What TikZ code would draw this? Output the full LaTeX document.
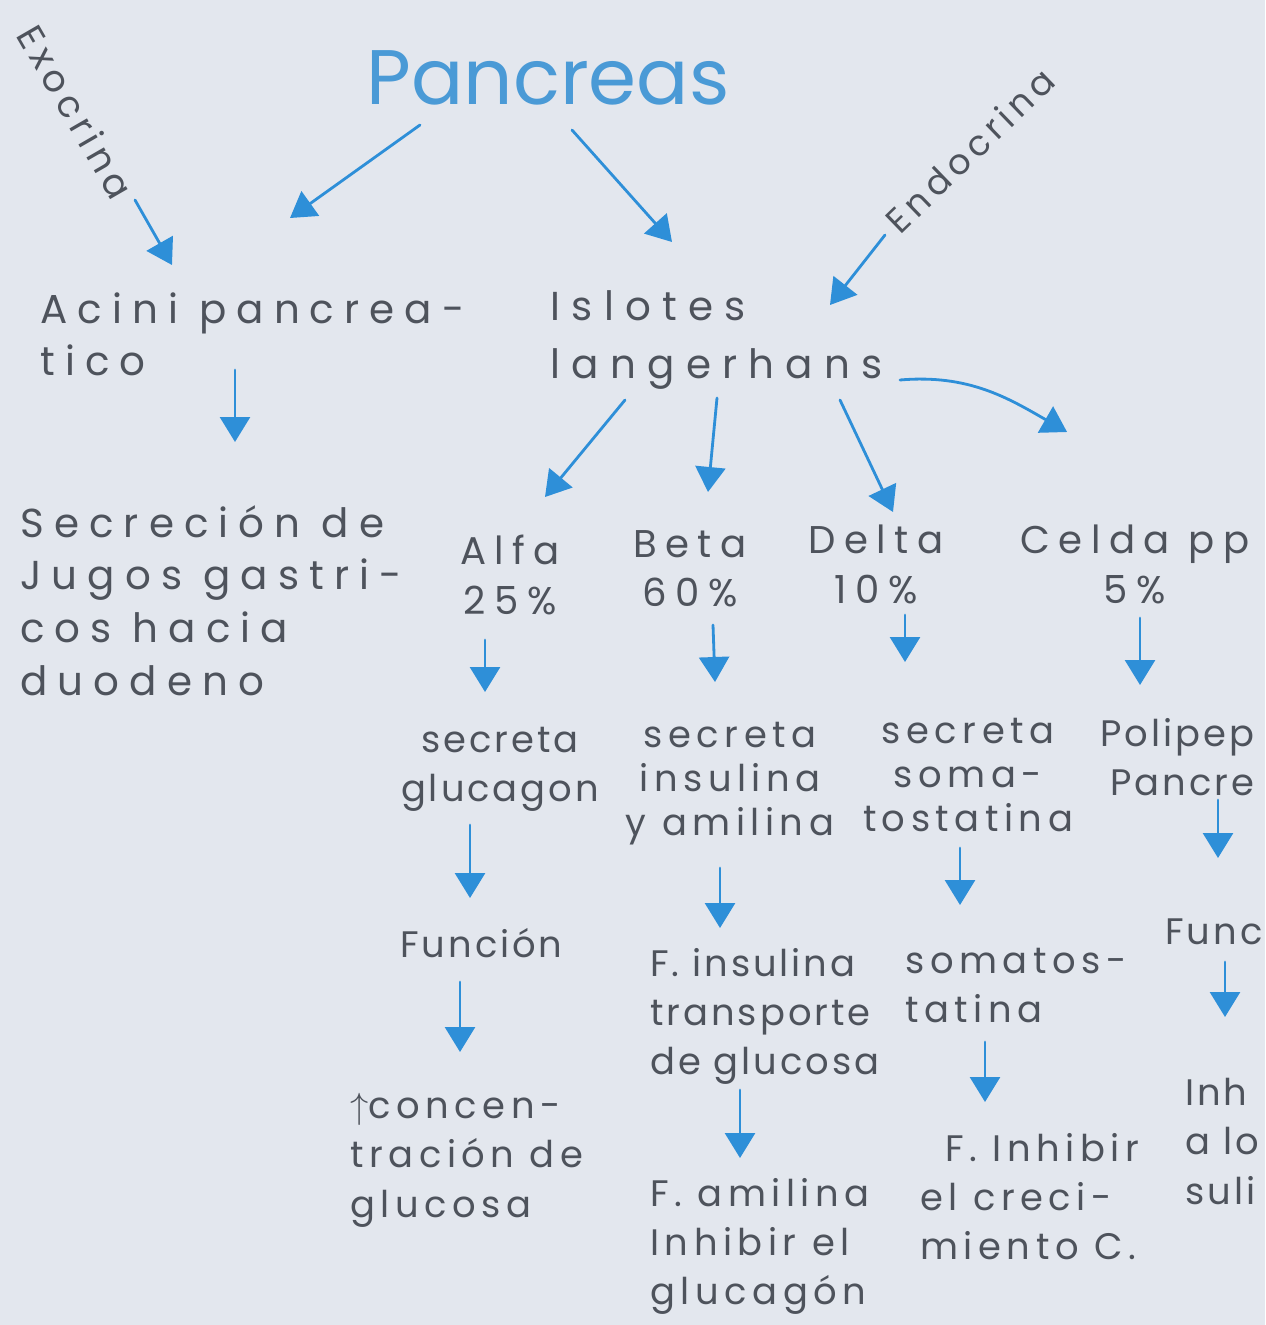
\documentclass[tikz,border=0pt]{standalone}
\usepackage{fontspec}
\setmainfont{Poppins}[LetterSpace=15]
\usetikzlibrary{arrows.meta}

\definecolor{tinta}{HTML}{4E535C}
\definecolor{azul}{HTML}{2E8FD8}
\definecolor{titulo}{HTML}{4A9AD6}
\definecolor{papel}{HTML}{E3E7EE}

\begin{document}
\begin{tikzpicture}[x=0.02cm,y=-0.02cm,>={Triangle[length=0.5cm,width=0.6cm]},
	texto/.style={inner sep=0pt,text=tinta,font=\fontsize{21}{28}\selectfont},
	grande/.style={font=\fontsize{23}{30}\selectfont\addfontfeature{LetterSpace=25}},
	medio/.style={font=\fontsize{22}{28}\selectfont\addfontfeature{LetterSpace=22}},
	chico/.style={font=\fontsize{21}{28}\selectfont\addfontfeature{LetterSpace=8}},
	izq node/.style={texto,align=left,anchor=north west},
	centro node/.style={texto,align=center,anchor=north},
	flecha/.style={draw,->,color=azul,line width=1.6pt,line cap=round}]
	
	\clip (0,0) rectangle (1265,1325);
	\fill[papel] (0,0) rectangle (1265,1325);
	
	% titulo y ramas
	\node[texto,text=titulo,font=\fontsize{44}{50}\selectfont\addfontfeature{LetterSpace=0}] (pan) at (548,78) {Pancreas};
	\node[texto,rotate=-60,font=\fontsize{21}{26}\selectfont] (exo) at (76,112) {Exocrina};
	\node[texto,rotate=44,font=\fontsize{20}{24}\selectfont] (endo) at (970,150) {Endocrina};
	
	\node[izq node,grande] (acini) at (40,292) {Acini pancrea-\\tico};
	\node[izq node,grande] (secr) at (20,505) {Secreción de\\Jugos gastri-\\cos hacia\\duodeno};
	\node[izq node,font=\fontsize{23}{33}\selectfont\addfontfeature{LetterSpace=28}] (islotes) at (550,290) {Islotes\\langerhans};
	
	% celulas
	\node[centro node,medio] (alfa) at (510,535) {Alfa\\25\%};
	\node[centro node,medio] (beta) at (690,530) {Beta\\60\%};
	\node[centro node,medio] (delta) at (876,525) {Delta\\10\%};
	\node[centro node,medio] (celda) at (1135,525) {Celda pp\\5\%};
	
	\node[centro node,chico] (glucagon) at (500,727) {secreta\\glucagon};
	\node[centro node,font=\fontsize{21}{25}\selectfont] (insul) at (730,722) {secreta\\insulina\\y amilina};
	\node[centro node,font=\fontsize{21}{25}\selectfont] (soma) at (968,718) {secreta\\soma-\\tostatina};
	\node[izq node,chico] (polip) at (1100,718) {Polipep\\\hspace{0.2cm}Pancre};
	
	\node[izq node,chico] (funcion) at (400,928) {Función};
	\node[izq node,chico] (finsul) at (650,948) {F. insulina\\transporte\\de glucosa};
	\node[izq node] (somat) at (905,948) {somatos-\\tatina};
	\node[izq node,chico] (func) at (1165,918) {Func};
	
	\node[izq node] (concen) at (350,1093) {$\uparrow$concen-\\tración de\\glucosa};
	\node[izq node] (famil) at (650,1178) {F. amilina\\Inhibir el\\glucagón};
	\node[izq node] (finhib) at (920,1133) {\hspace{0.5cm}F. Inhibir\\el creci-\\miento C.};
	\node[izq node,chico] (inh) at (1185,1078) {Inh\\a lo\\suli};
	
	\path[every edge/.style={flecha}]
	([shift={(59,88)}]exo.center) edge ([shift={(132,-27)}]acini.north west)
	([shift={(-128,47)}]pan.center) edge ([shift={(250,-74)}]acini.north west)
	([shift={(24,52)}]pan.center) edge ([shift={(122,-48)}]islotes.north west)
	([shift={(-85,85)}]endo.center) edge ([shift={(280,15)}]islotes.north west)
	([shift={(195,78)}]acini.north west) edge ([shift={(215,-63)}]secr.north west)
	([shift={(75,110)}]islotes.north west) edge ([shift={(35,-38)}]alfa.north)
	([shift={(167,108)}]islotes.north west) edge ([shift={(18,-38)}]beta.north)
	([shift={(290,110)}]islotes.north west) edge ([shift={(17,-13)}]delta.north)
	([shift={(350,90)}]islotes.north west) edge[out=5,in=150] ([shift={(47,-93)}]celda.north west)
	([shift={(-25,105)}]alfa.north) edge ([shift={(-15,-35)}]glucagon.north)
	([shift={(23,95)}]beta.north) edge ([shift={(-15,-40)}]insul.north)
	([shift={(29,90)}]delta.north) edge ([shift={(-63,-56)}]soma.north)
	([shift={(5,93)}]celda.north) edge ([shift={(40,-33)}]polip.north west)
	([shift={(-30,98)}]glucagon.north) edge ([shift={(70,-30)}]funcion.north west)
	([shift={(-10,146)}]insul.north) edge ([shift={(70,-20)}]finsul.north west)
	([shift={(-8,130)}]soma.north) edge ([shift={(55,-43)}]somat.north west)
	([shift={(118,82)}]polip.north west) edge ([shift={(53,-60)}]func.north west)
	([shift={(60,54)}]funcion.north west) edge ([shift={(110,-41)}]concen.north west)
	([shift={(90,142)}]finsul.north west) edge ([shift={(90,-20)}]famil.north west)
	([shift={(80,94)}]somat.north west) edge ([shift={(65,-31)}]finhib.north west)
	([shift={(60,44)}]func.north west) edge ([shift={(40,-61)}]inh.north west);
\end{tikzpicture}
\end{document}
